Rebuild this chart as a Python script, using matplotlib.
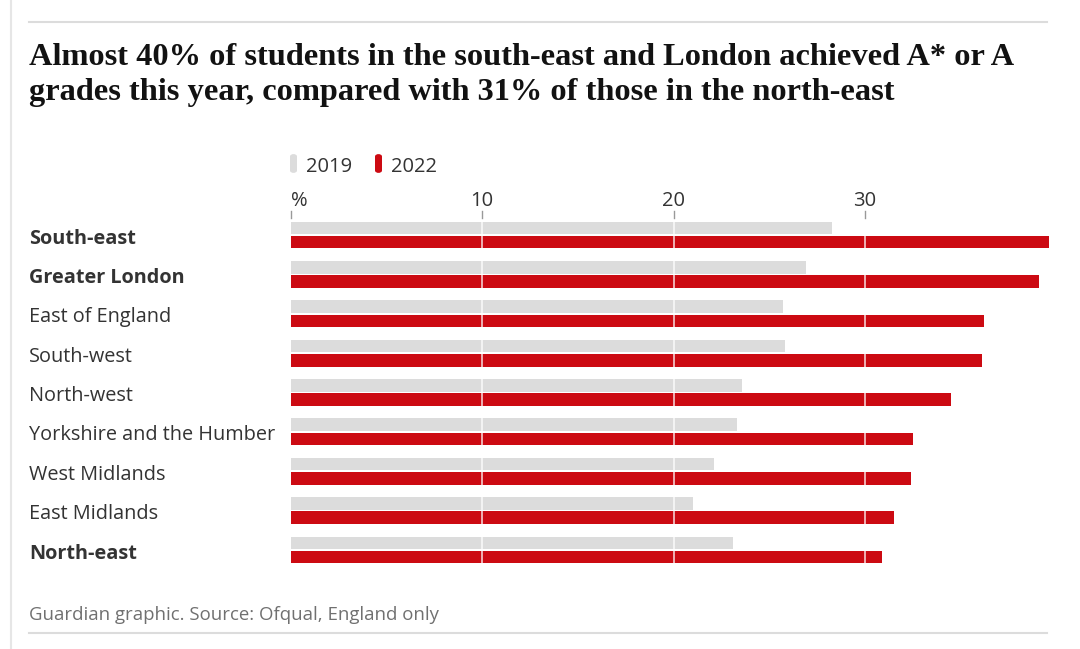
import matplotlib
matplotlib.use("Agg")
import matplotlib.pyplot as plt
from matplotlib.patches import FancyBboxPatch
from matplotlib.lines import Line2D

regions = ["South-east", "Greater London", "East of England", "South-west",
           "North-west", "Yorkshire and the Humber", "West Midlands",
           "East Midlands", "North-east"]
bold_regions = ["South-east", "Greater London", "North-east"]
values_2019 = [28.3, 26.9, 25.7, 25.8, 23.6, 23.3, 22.1, 21.0, 23.1]
values_2022 = [39.6, 39.1, 36.2, 36.1, 34.5, 32.5, 32.4, 31.5, 30.9]
series_labels = ["2019", "2022"]
tick_values = [0, 10, 20, 30]
tick_labels = ["%", "10", "20", "30"]

title = ("Almost 40% of students in the south-east and London achieved A* or A\n"
         "grades this year, compared with 31% of those in the north-east")
source = "Guardian graphic. Source: Ofqual, England only"

GREY = "#dcdcdc"
RED = "#cc0a12"
TXT = "#333333"
SANS = ["Open Sans", "DejaVu Sans"]

W, H = 1080, 649
fig = plt.figure(figsize=(W / 100, H / 100), dpi=100)

# axes placement in pixels
x0, x1 = 290.7, 290.7 + 40 * 19.14
y_top, y_bot = 211.4, 573.6
ax = fig.add_axes([x0 / W, 1 - y_bot / H, (x1 - x0) / W, (y_bot - y_top) / H])

bar_h = 0.322
off = 0.18
ys = list(range(len(regions)))
ax.barh([y - off for y in ys], values_2019, height=bar_h, color=GREY, zorder=2)
ax.barh([y + off for y in ys], values_2022, height=bar_h, color=RED, zorder=2)
ax.set_xlim(0, 40)
ax.set_ylim(len(regions) - 0.4, -0.6)

for t in tick_values[1:]:
    ax.axvline(t, color="white", lw=1.2, alpha=0.8, zorder=3)

for s in ax.spines.values():
    s.set_visible(False)
ax.set_yticks([])
ax.set_xticks([])

# ticks and tick labels at top
for v, lab in zip(tick_values, tick_labels):
    fx = (x0 + v * 19.14)
    fig.add_artist(Line2D([fx / W, fx / W], [1 - 211 / H, 1 - 218.5 / H],
                          color="#999999", lw=1.0))
    fig.text(fx / W, 1 - 201 / H, lab, ha="left" if v == 0 else "center",
             va="center", fontsize=14.5, color=TXT, family=SANS)

# region labels
for i, r in enumerate(regions):
    py = 238.5 + i * 39.4
    fig.text(29 / W, 1 - py / H, r, ha="left", va="center", fontsize=14.3,
             color=TXT, family=SANS,
             fontweight="bold" if r in bold_regions else "normal")

# legend
for lx, col, lab, tx in [(290, GREY, series_labels[0], 306),
                         (375, RED, series_labels[1], 391)]:
    p = FancyBboxPatch((lx / W, 1 - 173 / H), 7 / W, 19 / H,
                       boxstyle="round,pad=0,rounding_size=0.004",
                       transform=fig.transFigure, facecolor=col,
                       edgecolor="none")
    fig.add_artist(p)
    fig.text(tx / W, 1 - 167 / H, lab, ha="left", va="center",
             fontsize=14.5, color=TXT, family=SANS)

# title
fig.text(29 / W, 1 - 43 / H, title, ha="left", va="top", fontsize=23.3,
         fontweight="bold", color="#121212",
         family=["Liberation Serif", "DejaVu Serif"], linespacing=1.26)

# source
fig.text(29 / W, 1 - 615 / H, source, ha="left", va="center", fontsize=13.4,
         color="#707070", family=SANS)

# frame lines
fig.add_artist(Line2D([29 / W, 1047 / W], [1 - 22 / H, 1 - 22 / H],
                      color="#dcdcdc", lw=1.5))
fig.add_artist(Line2D([29 / W, 1047 / W], [1 - 633 / H, 1 - 633 / H],
                      color="#dcdcdc", lw=1.5))
fig.add_artist(Line2D([10.5 / W, 10.5 / W], [0, 1], color="#e6e6e6", lw=1.5))

fig.savefig("out.png", dpi=100)
